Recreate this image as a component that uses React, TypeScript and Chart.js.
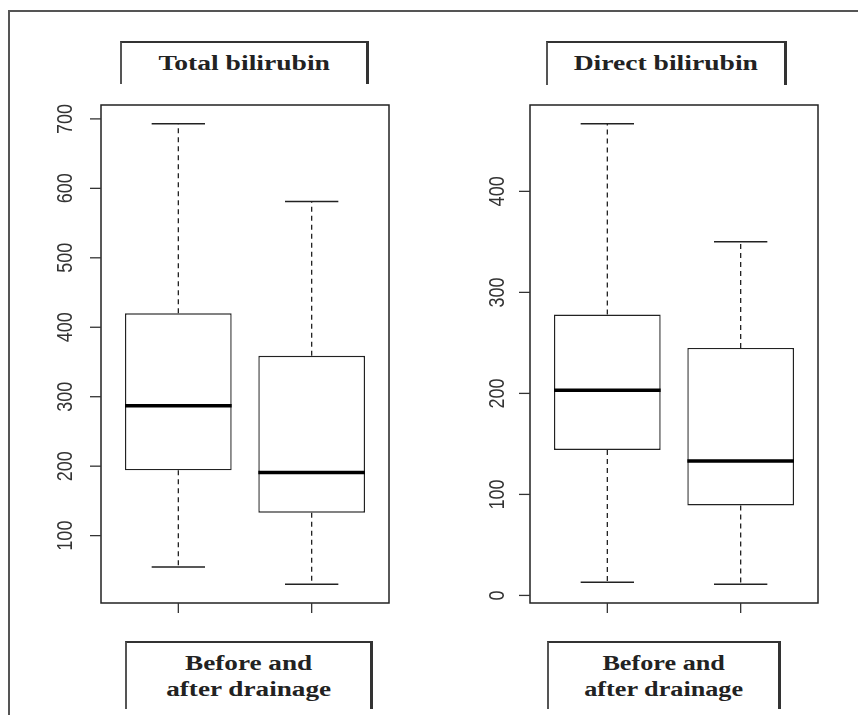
import React, { useEffect, useRef } from "react";
import { Chart, registerables } from "chart.js";

Chart.register(...registerables);

// ---------- data ----------
const groups = ["Before drainage", "After drainage"];

const totalMin = [55, 30];
const totalQ1 = [194, 133];
const totalMedian = [287, 191];
const totalQ3 = [420, 359];
const totalMax = [693, 581];
const totalTicks = [100, 200, 300, 400, 500, 600, 700];
const totalRange = [3, 720];

const directMin = [13, 11];
const directQ1 = [144, 89];
const directMedian = [203, 133];
const directQ3 = [278, 245];
const directMax = [467, 350];
const directTicks = [0, 100, 200, 300, 400];
const directRange = [-7.5, 485.5];

const xRange = [0.42, 2.58];

type Stats = {
  min: number[];
  q1: number[];
  median: number[];
  q3: number[];
  max: number[];
};

const boxplotAxes = {
  id: "boxplotAxes",
  afterDraw(chart: any, _args: any, opts: any) {
    const { ctx, chartArea: a } = chart;
    const x = chart.scales.x;
    const y = chart.scales.y;
    ctx.save();
    // frame
    ctx.strokeStyle = "#222";
    ctx.lineWidth = 1.5;
    ctx.strokeRect(a.left, a.top, a.right - a.left, a.bottom - a.top);
    // y ticks + labels
    ctx.lineWidth = 1.3;
    ctx.strokeStyle = "#333";
    for (const v of opts.yTicks as number[]) {
      const py = y.getPixelForValue(v);
      ctx.beginPath();
      ctx.moveTo(a.left - 11, py);
      ctx.lineTo(a.left, py);
      ctx.stroke();
      ctx.save();
      ctx.translate(a.left - opts.labelOffset, py);
      ctx.rotate(-Math.PI / 2);
      ctx.scale(1, 1.18);
      ctx.font = '18px "Liberation Sans", Arial, sans-serif';
      ctx.textAlign = "center";
      ctx.textBaseline = "middle";
      ctx.fillStyle = "#333";
      ctx.fillText(String(v), 0, 1);
      ctx.restore();
    }
    // x ticks
    groups.forEach((_g, i) => {
      const px = x.getPixelForValue(i + 1);
      ctx.beginPath();
      ctx.moveTo(px, a.bottom);
      ctx.lineTo(px, a.bottom + 10);
      ctx.stroke();
    });
    ctx.restore();
  },
};

function buildConfig(
  s: Stats,
  yTicks: number[],
  yRange: number[],
  padding: any,
  labelOffset: number
): any {
  const boxData = groups.map((_g, i) => ({ x: i + 1, y: [s.q1[i], s.q3[i]] }));
  const whiskers: any[] = [];
  const caps: any[] = [];
  const medians: any[] = [];
  groups.forEach((_g, i) => {
    const c = i + 1;
    whiskers.push(
      { x: c, y: s.q3[i] },
      { x: c, y: s.max[i] },
      { x: c, y: null },
      { x: c, y: s.q1[i] },
      { x: c, y: s.min[i] },
      { x: c, y: null }
    );
    caps.push(
      { x: c - 0.2, y: s.max[i] },
      { x: c + 0.2, y: s.max[i] },
      { x: c, y: null },
      { x: c - 0.2, y: s.min[i] },
      { x: c + 0.2, y: s.min[i] },
      { x: c, y: null }
    );
    medians.push(
      { x: c - 0.4, y: s.median[i] },
      { x: c + 0.4, y: s.median[i] },
      { x: c, y: null }
    );
  });

  return {
    type: "bar",
    data: {
      datasets: [
        {
          type: "line",
          label: "median",
          data: medians,
          borderColor: "#000",
          borderWidth: 3.5,
          pointRadius: 0,
          spanGaps: false,
          order: 0,
        },
        {
          type: "line",
          label: "whiskers",
          data: whiskers,
          borderColor: "#222",
          borderWidth: 1.3,
          borderDash: [5, 4],
          pointRadius: 0,
          spanGaps: false,
          order: 1,
        },
        {
          type: "line",
          label: "caps",
          data: caps,
          borderColor: "#222",
          borderWidth: 1.5,
          pointRadius: 0,
          spanGaps: false,
          order: 1,
        },
        {
          type: "bar",
          label: "box",
          data: boxData,
          backgroundColor: "#fff",
          borderColor: "#222",
          borderWidth: 1.4,
          borderSkipped: false,
          barPercentage: 0.8,
          categoryPercentage: 1,
          order: 2,
        },
      ],
    },
    options: {
      responsive: false,
      animation: false,
      events: [],
      layout: { padding },
      plugins: {
        legend: { display: false },
        title: { display: false },
        tooltip: { enabled: false },
        boxplotAxes: { yTicks, labelOffset },
      },
      scales: {
        x: {
          type: "linear",
          display: false,
          offset: false,
          min: xRange[0],
          max: xRange[1],
          afterBuildTicks: (scale: any) => {
            scale.ticks = groups.map((_g, i) => ({ value: i + 1 }));
          },
        },
        y: {
          type: "linear",
          display: false,
          min: yRange[0],
          max: yRange[1],
        },
      },
    },
    plugins: [boxplotAxes],
  };
}

function BoxChart(props: {
  left: number;
  top: number;
  width: number;
  height: number;
  stats: Stats;
  yTicks: number[];
  yRange: number[];
  padding: any;
  labelOffset: number;
}) {
  const ref = useRef<HTMLCanvasElement | null>(null);
  useEffect(() => {
    if (!ref.current) return;
    const chart = new Chart(
      ref.current,
      buildConfig(props.stats, props.yTicks, props.yRange, props.padding, props.labelOffset)
    );
    return () => chart.destroy();
  }, []);
  return (
    <canvas
      ref={ref}
      width={props.width}
      height={props.height}
      style={{
        position: "absolute",
        left: props.left,
        top: props.top,
        width: props.width,
        height: props.height,
      }}
    />
  );
}

function LabelBox(props: {
  left: number;
  top: number;
  width: number;
  height: number;
  lines: string[];
  scaleX: number;
  paddingTop: number;
}) {
  return (
    <div
      style={{
        position: "absolute",
        left: props.left,
        top: props.top,
        width: props.width,
        height: props.height,
        boxSizing: "border-box",
        borderTop: "2px solid #333",
        borderLeft: "2.5px solid #555",
        borderRight: "3.5px solid #333",
        textAlign: "center",
        paddingTop: props.paddingTop,
      }}
    >
      <span
        style={{
          display: "inline-block",
          transform: `scaleX(${props.scaleX})`,
          transformOrigin: "center",
          fontFamily: '"Liberation Serif", "Times New Roman", serif',
          fontWeight: "bold",
          fontSize: 20,
          lineHeight: "26px",
          color: "#222",
          whiteSpace: "nowrap",
        }}
      >
        {props.lines.map((l, i) => (
          <React.Fragment key={i}>
            {i > 0 && <br />}
            {l}
          </React.Fragment>
        ))}
      </span>
    </div>
  );
}

export default function App() {
  const totalStats: Stats = {
    min: totalMin,
    q1: totalQ1,
    median: totalMedian,
    q3: totalQ3,
    max: totalMax,
  };
  const directStats: Stats = {
    min: directMin,
    q1: directQ1,
    median: directMedian,
    q3: directQ3,
    max: directMax,
  };
  return (
    <div
      style={{
        position: "absolute",
        left: 0,
        top: 0,
        width: 858,
        height: 715,
        overflow: "hidden",
        background: "#fff",
      }}
    >
      <div
        style={{
          position: "absolute",
          left: 8,
          top: 10,
          width: 900,
          height: 800,
          borderTop: "2px solid #555",
          borderLeft: "2px solid #555",
        }}
      />
      <LabelBox left={120} top={41} width={249} height={43} lines={["Total bilirubin"]} scaleX={1.38} paddingTop={7} />
      <LabelBox left={546} top={41} width={241} height={44} lines={["Direct bilirubin"]} scaleX={1.38} paddingTop={7} />
      <BoxChart
        left={30}
        top={90}
        width={400}
        height={540}
        stats={totalStats}
        yTicks={totalTicks}
        yRange={totalRange}
        padding={{ left: 71, top: 15, right: 41, bottom: 27 }}
        labelOffset={36}
      />
      <BoxChart
        left={460}
        top={90}
        width={390}
        height={540}
        stats={directStats}
        yTicks={directTicks}
        yRange={directRange}
        padding={{ left: 70, top: 15, right: 32, bottom: 27 }}
        labelOffset={33}
      />
      <LabelBox left={125} top={641} width={248} height={68} lines={["Before and", "after drainage"]} scaleX={1.36} paddingTop={7} />
      <LabelBox left={547} top={641} width={234} height={68} lines={["Before and", "after drainage"]} scaleX={1.31} paddingTop={7} />
    </div>
  );
}
